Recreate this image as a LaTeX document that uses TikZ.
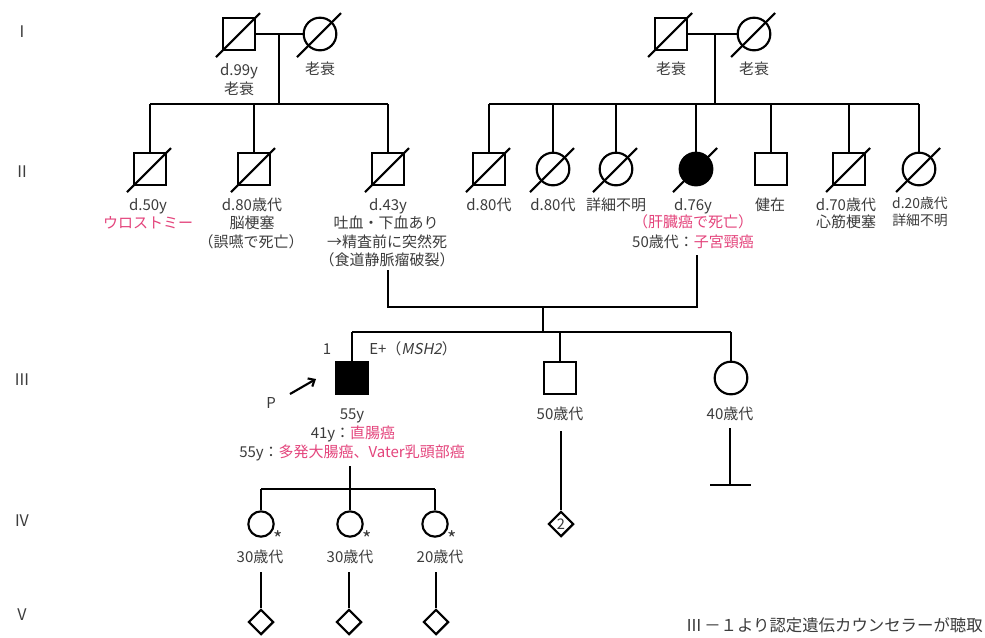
\documentclass[tikz,border=0pt]{standalone}
\usepackage{fontspec}
\setmainfont{Noto Sans CJK JP}
\newfontfamily\slantfont[FakeSlant=0.2]{Noto Sans CJK JP}
\usetikzlibrary{shapes.geometric,arrows.meta}
\definecolor{tg}{RGB}{60,60,60}
\definecolor{pk}{RGB}{228,68,124}
\newcommand\decline[1]{\draw[conn] ([shift={(-23,23)}]#1.center) -- ([shift={(21,-21)}]#1.center);}
\begin{document}
\begin{tikzpicture}[x=0.75pt,y=-0.75pt,
  conn/.style={line width=1.6pt, black},
  sym/.style={draw, line width=1.6pt, inner sep=0pt, minimum size=24.5pt},
  male/.style={sym, rectangle},
  female/.style={sym, circle},
  smallfem/.style={sym, circle, minimum size=19pt},
  dia/.style={sym, diamond, minimum size=19pt, aspect=1, text=tg},
  affected/.style={fill=black},
  lbl/.style={inner sep=0pt, text height=0.88em, text depth=0.12em, text=tg, font=\fontsize{11.25}{13}\selectfont},
  slbl/.style={lbl, font=\fontsize{10.4}{12}\selectfont},
  genlbl/.style={lbl, font=\fontsize{12}{13}\selectfont},
  star/.style={lbl, font=\fontsize{15}{16}\selectfont},
  pink/.style={text=pk}
]
\fill[white] (0,0) rectangle (985,637);
\useasboundingbox (0,0) rectangle (985,637);

% generation labels
\node[genlbl] (g1) at (22,32) {I};
\node[genlbl] (g2) at (22,172) {II};
\node[genlbl] (g3) at (22,380) {III};
\node[genlbl] (g4) at (22,521) {IV};
\node[genlbl] (g5) at (22,615) {V};

% ---------- Generation I
\node[male] (I1) at (239,34) {};
\node[female] (I2) at (320,34) {};
\node[male] (I3) at (671,34) {};
\node[female] (I4) at (754,34) {};
\decline{I1}\decline{I2}\decline{I3}\decline{I4}
\draw[conn] (I1.east) -- (I2.west);
\draw[conn] (I3.east) -- (I4.west);
\coordinate (m1) at (279,34);
\coordinate (s1) at (279,104);
\coordinate (m2) at (715,34);
\coordinate (s2) at (715,104);
\draw[conn] (m1) -- (s1);
\draw[conn] (m2) -- (s2);
\node[lbl] (I1a) at (239,70) {d.99y};
\node[lbl] (I1b) at (239,89) {老衰};
\node[lbl] (I2a) at (320,69) {老衰};
\node[lbl] (I3a) at (671,69) {老衰};
\node[lbl] (I4a) at (754,69) {老衰};

% ---------- Generation II
\node[male] (II1) at (150,169) {};
\node[male] (II2) at (254,169) {};
\node[male] (II3) at (388,169) {};
\node[male] (II4) at (489,169) {};
\node[female] (II5) at (553,169) {};
\node[female] (II6) at (616,169) {};
\node[female, affected] (II7) at (696,169) {};
\node[male] (II8) at (771,169) {};
\node[male] (II9) at (849,169) {};
\node[female] (II10) at (919,169) {};
\decline{II1}\decline{II2}\decline{II3}\decline{II4}\decline{II5}
\decline{II6}\decline{II7}\decline{II9}\decline{II10}
\draw[conn] (II1.north |- s1) -- (II3.north |- s1);
\foreach \n in {II1,II2,II3} \draw[conn] (\n.north) -- (\n.north |- s1);
\draw[conn] (II4.north |- s2) -- (II10.north |- s2);
\foreach \n in {II4,II5,II6,II7,II8,II9,II10} \draw[conn] (\n.north) -- (\n.north |- s2);

\node[lbl] (II1a) at (148,205) {d.50y};
\node[lbl, pink] (II1b) at (148,223) {ウロストミー};
\node[lbl] (II2a) at (252,205) {d.80歳代};
\node[lbl] (II2b) at (252,223) {脳梗塞};
\node[lbl] (II2c) at (251,242) {（誤嚥で死亡）};
\node[lbl] (II3a) at (388,205) {d.43y};
\node[lbl] (II3b) at (386,223) {吐血・下血あり};
\node[lbl] (II3c) at (387,242) {→精査前に突然死};
\node[lbl] (II3d) at (387,260) {（食道静脈瘤破裂）};
\node[lbl] (II4a) at (489,205) {d.80代};
\node[lbl] (II5a) at (553,205) {d.80代};
\node[lbl] (II6a) at (616,205) {詳細不明};
\node[lbl] (II7a) at (693,205) {d.76y};
\node[lbl, pink] (II7b) at (693,222) {（肝臓癌で死亡）};
\node[lbl] (II7c) at (693,242) {50歳代：{\color{pk}子宮頸癌}};
\node[lbl] (II8a) at (770,205) {健在};
\node[lbl] (II9a) at (846,205) {d.70歳代};
\node[lbl] (II9b) at (846,222) {心筋梗塞};
\node[slbl] (II10a) at (920,203) {d.20歳代};
\node[slbl] (II10b) at (920,220) {詳細不明};

% couple II3 x II7
\coordinate (c3) at (388,270);
\coordinate (c7) at (697,255);
\coordinate (cm) at (543,307);
\coordinate (s3) at (543,332);
\draw[conn] (c3) -- (c3 |- cm) -- (c7 |- cm) -- (c7);
\draw[conn] (cm) -- (s3);

% ---------- Generation III
\node[male, affected] (III1) at (352,378) {};
\node[male] (III2) at (560,378) {};
\node[female] (III3) at (731,378) {};
\draw[conn] (III1.north |- s3) -- (III3.north |- s3);
\foreach \n in {III1,III2,III3} \draw[conn] (\n.north) -- (\n.north |- s3);
\node[lbl] (n1) at (327,349) {1};
\node[lbl, anchor=west] (gene) at (369,349) {E+（{\slantfont MSH2}）};
\node[lbl] (P) at (271,403) {P};
\coordinate (arrS) at (290,394);
\coordinate (arrE) at (316,379);
\draw[conn, -{Straight Barb[length=4pt,width=7pt]}] (arrS) -- (arrE);
\node[lbl] (III1a) at (352,414) {55y};
\node[lbl] (III1b) at (353,433) {41y：{\color{pk}直腸癌}};
\node[lbl] (III1c) at (352,452) {55y：{\color{pk}多発大腸癌、Vater乳頭部癌}};
\node[lbl] (III2a) at (560,414) {50歳代};
\node[lbl] (III3a) at (730,414) {40歳代};

% III2 -> diamond 2
\coordinate (t2) at (561,431);
\node[dia] (IV4) at (561,524) {};
\node[lbl, font=\fontsize{11}{12}\selectfont] (IV4n) at (IV4.center) {2};
\draw[conn] (t2) -- (IV4.north);
% III3 -> no children
\coordinate (t3) at (730,428);
\coordinate (t3b) at (730,485);
\coordinate (barL) at (710,485);
\coordinate (barR) at (751,485);
\draw[conn] (t3) -- (t3b);
\draw[conn] (barL) -- (barR);

% III1 children
\coordinate (d1) at (350,466);
\coordinate (s4) at (350,489);
\draw[conn] (d1) -- (s4);
\node[smallfem] (IV1) at (261,524) {};
\node[smallfem] (IV2) at (350,524) {};
\node[smallfem] (IV3) at (435,524) {};
\draw[conn] (IV1.north |- s4) -- (IV3.north |- s4);
\foreach \n in {IV1,IV2,IV3} \draw[conn] (\n.north) -- (\n.north |- s4);
\node[star] (st1) at (278,541) {*};
\node[star] (st2) at (367,541) {*};
\node[star] (st3) at (452,541) {*};
\node[lbl] (IV1a) at (260,557) {30歳代};
\node[lbl] (IV2a) at (350,557) {30歳代};
\node[lbl] (IV3a) at (440,557) {20歳代};

% ---------- Generation V
\node[dia] (V1) at (261,622) {};
\node[dia] (V2) at (349,622) {};
\node[dia] (V3) at (436,622) {};
\coordinate (u1) at (261,572);
\coordinate (u2) at (349,572);
\coordinate (u3) at (436,572);
\draw[conn] (u1) -- (V1.north);
\draw[conn] (u2) -- (V2.north);
\draw[conn] (u3) -- (V3.north);

\node[lbl, anchor=east, font=\fontsize{12.3}{13}\selectfont] (note) at (983,626) {Ⅲ\hspace{1.5pt}－１より認定遺伝カウンセラーが聴取};
\end{tikzpicture}
\end{document}
